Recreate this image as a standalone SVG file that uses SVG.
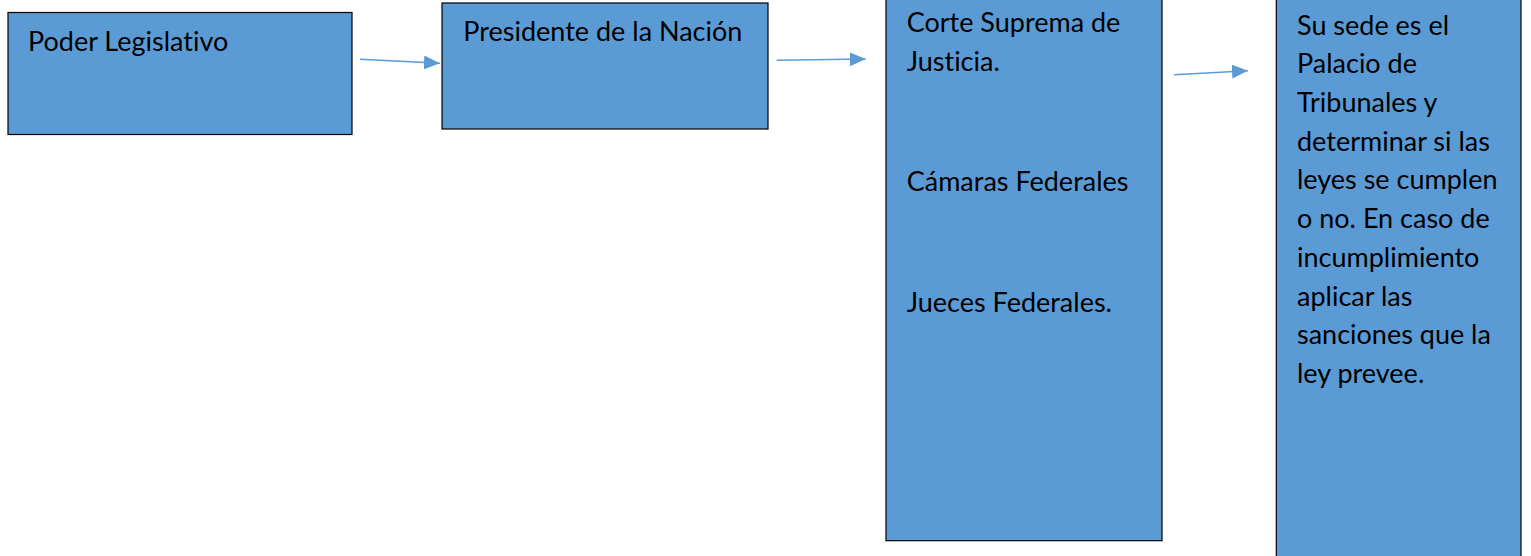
<svg xmlns="http://www.w3.org/2000/svg" width="1531" height="556" viewBox="0 0 1531 556">
<style>
.box{fill:#5B9BD5;stroke:#000;stroke-width:1.2}
.t{font-family:Lato,"Open Sans",sans-serif;font-size:27px;fill:#000;font-variant-ligatures:none}
.c{stroke:#5B9BD5;stroke-width:1.4;fill:none;marker-end:url(#ah)}
</style>
<defs>
<marker id="ah" markerUnits="userSpaceOnUse" markerWidth="18" markerHeight="16" refX="16" refY="7" orient="auto">
<path d="M0,0 L16,7 L0,14 Z" fill="#5B9BD5"/>
</marker>
</defs>
<rect width="1531" height="556" fill="#fff"/>
<g id="connectors">
<line class="c" x1="360" y1="59.3" x2="440" y2="63.3"/>
<line class="c" x1="776.7" y1="60.3" x2="865.7" y2="59"/>
<line class="c" x1="1174" y1="74.8" x2="1248" y2="70.7"/>
</g>
<g id="poder-legislativo">
<rect class="box" x="8" y="12.5" width="344" height="122"/>
<text class="t" x="28" y="50.7">Poder Legislativo</text>
</g>
<g id="presidente">
<rect class="box" x="442" y="3" width="326" height="126"/>
<text class="t" x="463.3" y="40.7">Presidente de la Nación</text>
</g>
<g id="corte-suprema">
<rect class="box" x="886" y="-5" width="276" height="545.7"/>
<text class="t" x="906.7" y="32.3">Corte Suprema de</text>
<text class="t" x="906.7" y="71">Justicia.</text>
<text class="t" x="906.7" y="190.7">Cámaras Federales</text>
<text class="t" x="906.7" y="311.7">Jueces Federales.</text>
</g>
<g id="sede">
<rect class="box" x="1276.3" y="-5" width="244.7" height="570"/>
<text class="t" x="1297" y="34.6">Su sede es el</text>
<text class="t" x="1297" y="73.3">Palacio de</text>
<text class="t" x="1297" y="112">Tribunales y</text>
<text class="t" x="1297" y="150.7">determinar si las</text>
<text class="t" x="1297" y="189.4">leyes se cumplen</text>
<text class="t" x="1297" y="228.1">o no. En caso de</text>
<text class="t" x="1297" y="266.8">incumplimiento</text>
<text class="t" x="1297" y="305.5">aplicar las</text>
<text class="t" x="1297" y="344.2">sanciones que la</text>
<text class="t" x="1297" y="382.9">ley prevee.</text>
</g>
</svg>
